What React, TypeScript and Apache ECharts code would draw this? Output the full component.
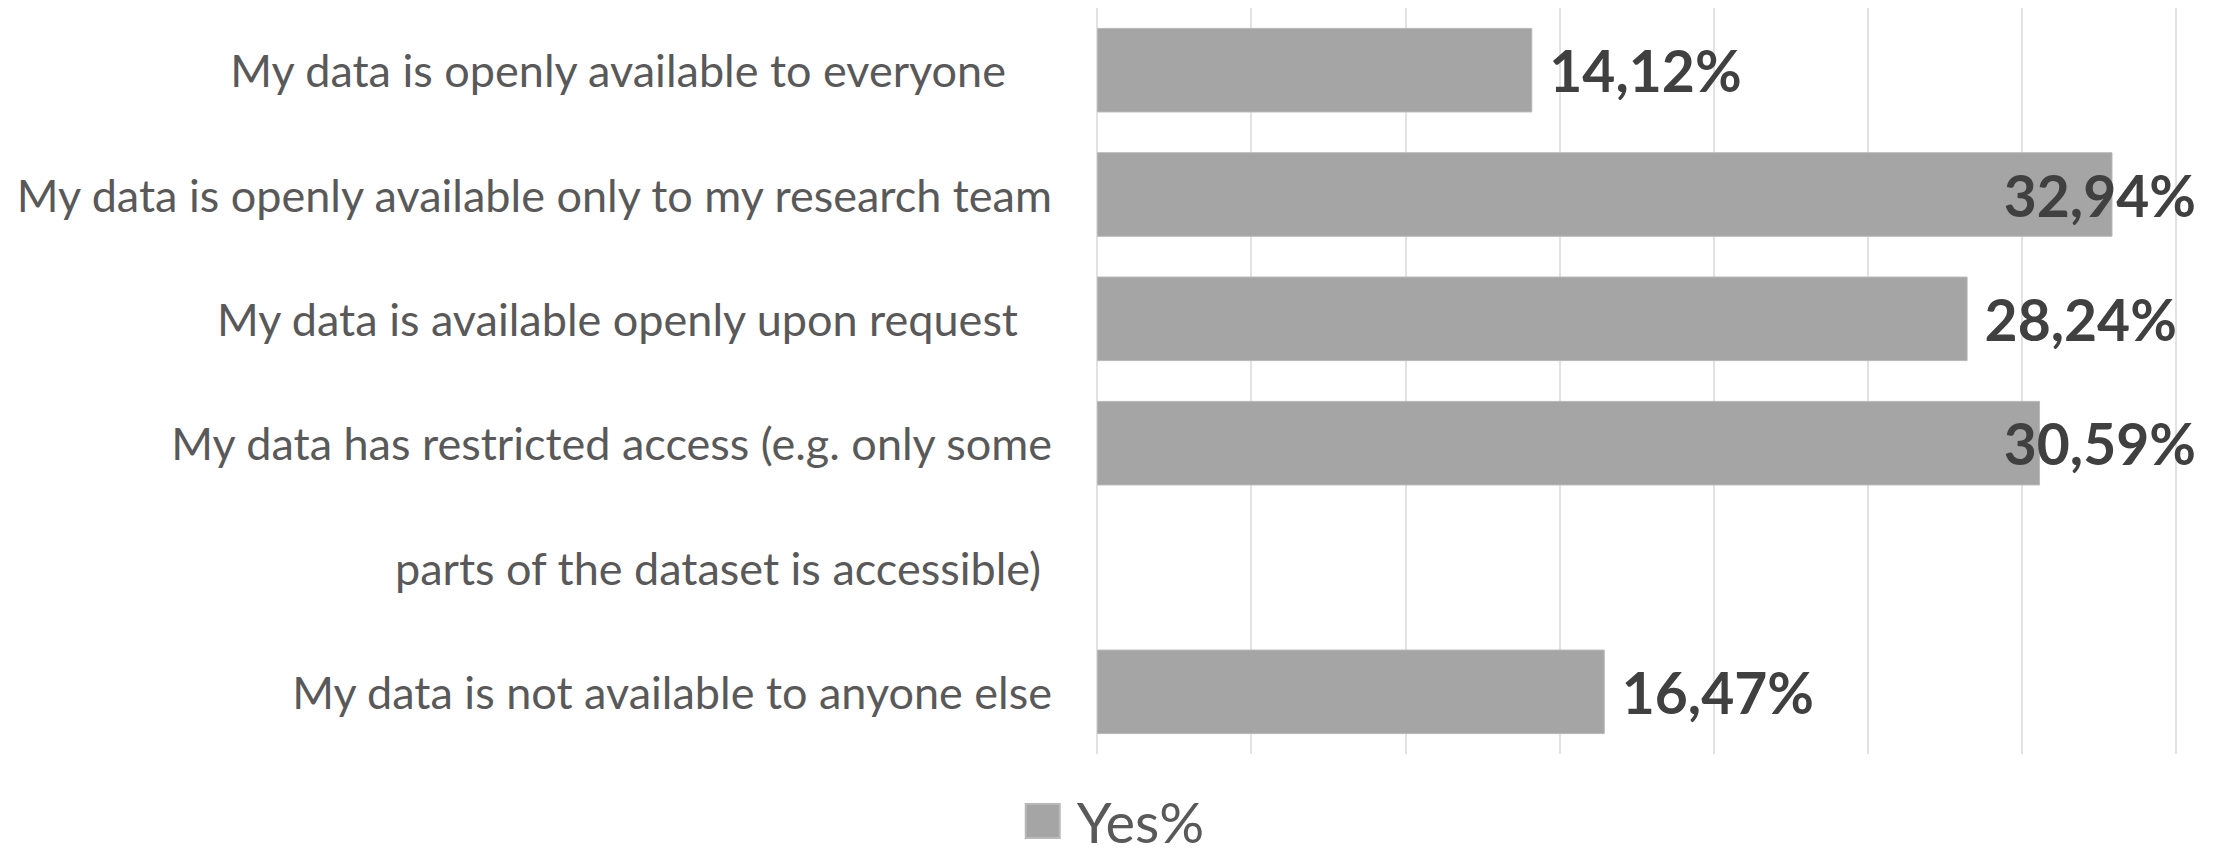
import React, { useEffect, useRef } from "react";
import * as echarts from "echarts";

const categories = [
  "My data is openly available to everyone",
  "My data is openly available only to my research team",
  "My data is available openly upon request",
  "My data has restricted access (e.g. only some",
  "parts of the dataset is accessible)",
  "My data is not available to anyone else",
];
const yesValues: (number | null)[] = [14.12, 32.94, 28.24, 30.59, null, 16.47];
const seriesName = "Yes%";
const axisMin = 0;
const axisMax = 35;
const axisInterval = 5;

// extra right padding (px) per category label, mimicking the original's trailing spaces
const labelPad = [46, 0, 34, 0, 11, 0];

const FONT = "Lato";

export default function App() {
  const ref = useRef<HTMLDivElement>(null);
  useEffect(() => {
    document.body.style.margin = "0";
    const chart = echarts.init(ref.current!, null, { renderer: "svg" });
    const rich: Record<string, any> = {};
    labelPad.forEach((p, i) => {
      rich["c" + i] = {
        fontFamily: FONT,
        fontSize: 45,
        color: "#595959",
        padding: [0, p, 0, 0],
      };
    });
    const limitRight = 2196;
    chart.setOption({
      animation: false,
      textStyle: { fontFamily: FONT },
      grid: { left: 1097, right: 53, top: 8, bottom: 102, containLabel: false },
      legend: {
        show: true,
        top: 793,
        left: "center",
        padding: 0,
        icon: "rect",
        itemWidth: 34,
        itemHeight: 34,
        textStyle: {
          fontFamily: FONT,
          fontSize: 56,
          lineHeight: 56,
          color: "#595959",
          padding: [0, 0, 0, 12],
        },
        data: [seriesName],
      },
      xAxis: {
        type: "value",
        min: axisMin,
        max: axisMax,
        interval: axisInterval,
        axisLabel: { show: false },
        axisLine: { show: false },
        axisTick: { show: false },
        splitLine: { show: true, lineStyle: { color: "#d9d9d9", width: 1.5 } },
      },
      yAxis: {
        type: "category",
        inverse: true,
        data: categories,
        axisLine: { show: false },
        axisTick: { show: false },
        axisLabel: {
          margin: 45,
          formatter: (v: string, i: number) => `{c${i}|${v}}`,
          rich,
        },
      },
      series: [
        {
          name: seriesName,
          type: "bar",
          data: yesValues,
          barCategoryGap: "32%",
          itemStyle: { color: "#a5a5a5", borderColor: "#b8b8b8", borderWidth: 1 },
          label: {
            show: true,
            position: "right",
            distance: 17,
            fontFamily: FONT,
            fontSize: 57,
            fontWeight: "bold",
            color: "#404040",
            formatter: (p: any) =>
              p.value == null ? "" : Number(p.value).toFixed(2).replace(".", ",") + "%",
          },
          labelLayout: (params: any) => {
            const r = params.labelRect;
            if (r && r.x + r.width > limitRight) {
              return {
                x: limitRight - r.width,
                y: r.y + r.height / 2,
                align: "left",
                verticalAlign: "middle",
              };
            }
            return {};
          },
        },
      ],
    });
    return () => chart.dispose();
  }, []);
  return <div ref={ref} style={{ width: 2229, height: 856 }} />;
}
